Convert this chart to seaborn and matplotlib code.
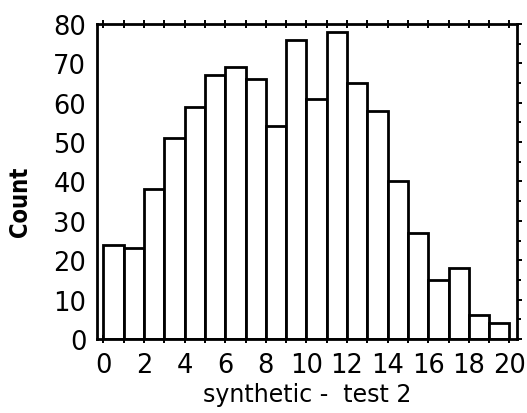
import numpy as np
import pandas as pd
import matplotlib
matplotlib.use("Agg")
import matplotlib.pyplot as plt
from matplotlib.ticker import MultipleLocator
import seaborn as sns

# Data (bins of width 1 from 0 to 20)
bin_left = list(range(0, 20))
counts = [24, 23, 38, 51, 59, 67, 69, 66, 54, 76, 61, 78, 65, 58, 40, 27, 15, 18, 6, 4]
x_ticks = list(range(0, 21, 2))
y_ticks = list(range(0, 81, 10))
x_label = "synthetic -  test 2"
y_label = "Count"

sns.set_theme(style="white")
plt.rcParams['font.family'] = ['DejaVu Sans']

df = pd.DataFrame({"value": [b + 0.5 for b in bin_left], "count": counts})

fig = plt.figure(figsize=(5.27, 4.14), dpi=100)
ax = fig.add_axes([0.1835, 0.1787, 0.797, 0.761])

sns.histplot(data=df, x="value", weights="count", binwidth=1, binrange=(0, 20),
             color="white", edgecolor="black", linewidth=2.0, alpha=1, ax=ax)

ax.set_xlim(-0.33, 20.36)
ax.set_ylim(0, 80)
ax.set_xticks(x_ticks)
ax.set_yticks(y_ticks)
ax.xaxis.set_minor_locator(MultipleLocator(1))
ax.yaxis.set_minor_locator(MultipleLocator(5))

for s in ax.spines.values():
    s.set_color("black")
    s.set_linewidth(2.0)

ax.tick_params(axis="both", which="both", direction="out", color="black",
               width=1.4, top=True, right=True, labeltop=False, labelright=False)
ax.tick_params(axis="both", which="major", length=3.5, labelsize=18.5,
               labelcolor="black")
ax.tick_params(axis="both", which="minor", length=3)
ax.tick_params(axis="y", which="major", pad=4)
ax.tick_params(axis="x", which="both", bottom=True, direction="inout", length=6)
ax.tick_params(axis="x", which="major", pad=6)

ax.set_xlabel(x_label, fontsize=17, color="black")
ax.xaxis.set_label_coords(0.5, -0.138)
ax.set_ylabel(y_label, fontsize=17, color="black", fontweight="bold",
              fontstretch="condensed")
ax.yaxis.set_label_coords(-0.155, 0.44)

fig.savefig("out.png", dpi=100)
